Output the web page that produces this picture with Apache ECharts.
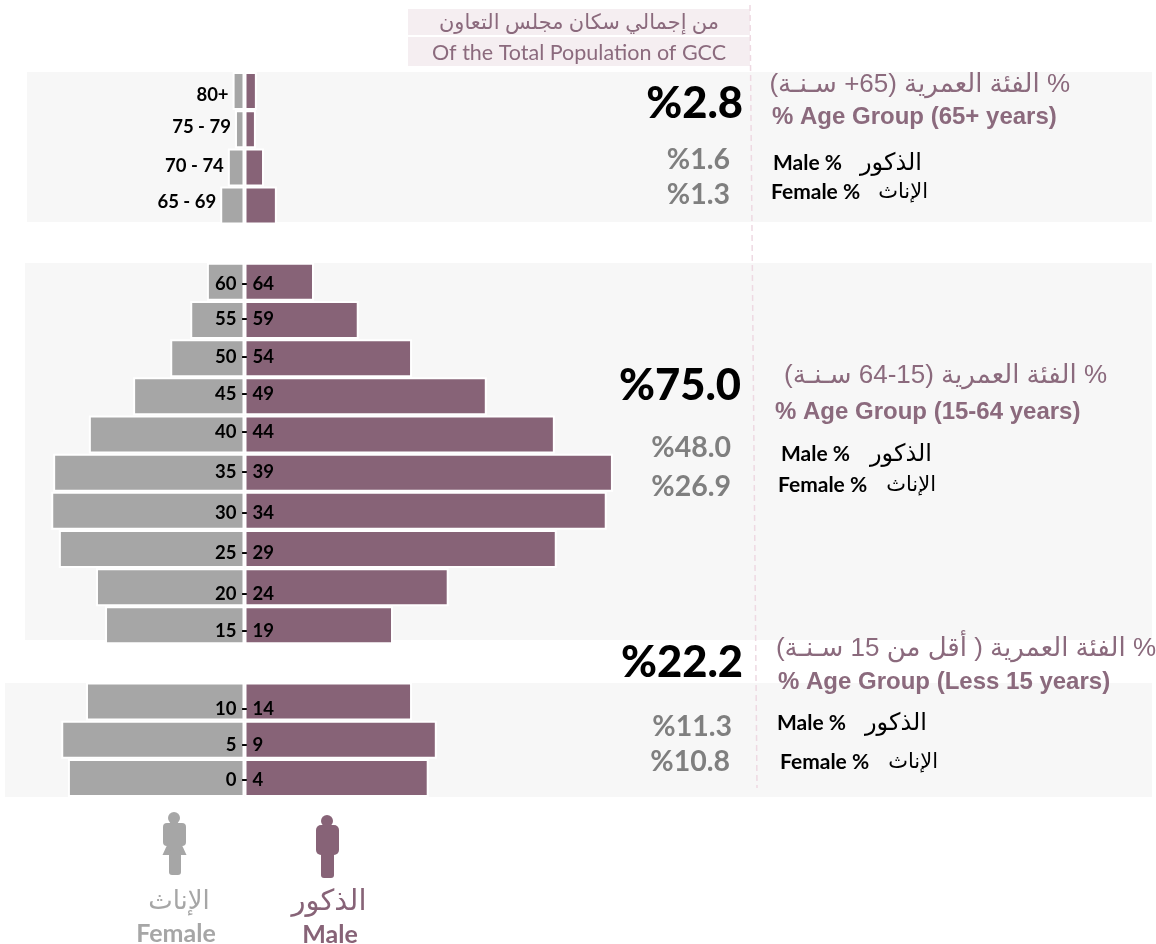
<!DOCTYPE html>
<html>
<head>
<meta charset="utf-8">
<style>
  html, body { margin: 0; padding: 0; background: #fff; }
  #chart { width: 1156px; height: 944px; }
</style>
<script src="https://cdn.jsdelivr.net/npm/echarts@6/dist/echarts.min.js"></script>
</head>
<body>
<div id="chart"></div>
<script>
// 年龄组，空字符串是分组之间的空行
const categories = ["80+", "75 - 79", "70 - 74", "65 - 69", "",
  "60 - 64", "55 - 59", "50 - 54", "45 - 49", "40 - 44", "35 - 39", "30 - 34", "25 - 29", "20 - 24", "15 - 19", "",
  "10 - 14", "5 - 9", "0 - 4"];
const maleValues = [0.26, 0.24, 0.41, 0.68, null,
  1.46, 2.40, 3.52, 5.09, 6.52, 7.74, 7.61, 6.56, 4.29, 3.12, null,
  3.52, 4.04, 3.87];
const femaleValues = [0.25, 0.20, 0.35, 0.51, null,
  0.79, 1.14, 1.56, 2.34, 3.27, 4.02, 4.06, 3.90, 3.12, 2.93, null,
  3.33, 3.85, 3.71];
// 前四个年龄组的标签放在柱子左边
const outerLabelCount = 4;
const labelNudge = [4, -2, -1, -4, 0, 2, -1, -1, -2, -2, -1, 2, 4, 7, 6, 0, 7, 5, 2];

const GREY = "#a6a6a6";
const PLUM = "#876377";
const TITLE = "#8b6a7d";
const FONT = "Lato, 'DejaVu Sans', sans-serif";
const ARIAL = "'Liberation Sans', 'DejaVu Sans', sans-serif";
const RLE = "\u202B";
const PDF = "\u202C";

function text(str, x, y, font, fill, align) {
  return {
    type: "text",
    z: 5,
    x: x,
    y: y,
    style: { text: str, font: font, fill: fill, align: align || "left", verticalAlign: "middle" },
  };
}

function panel(x, y, width, height, fill) {
  return { type: "rect", z: -1, shape: { x: x, y: y, width: width, height: height }, style: { fill: fill } };
}

function blob(x, y, width, height, r, fill) {
  return { type: "rect", z: 5, shape: { x: x, y: y, width: width, height: height, r: r }, style: { fill: fill } };
}

// 右侧每组的文字
function groupBlock(g) {
  return [
    text(g.total, g.totalX, g.totalY + 2, "900 43.5px " + FONT, "#000", "right"),
    text(g.male, g.maleX, g.maleY + 1, "bold 28.5px " + FONT, "#7f7f7f", "right"),
    text(g.female, g.femaleX, g.femaleY + 1, "bold 28.5px " + FONT, "#7f7f7f", "right"),
    text(RLE + g.titleAr + PDF, g.titleArX, g.titleArY + 1, "26px " + ARIAL, TITLE, "right"),
    text(g.titleEn, g.titleEnX, g.titleEnY + 1, "bold 24px " + ARIAL, TITLE),
    text("Male %", g.mLabelX, g.mLabelY + 1, "bold 21px " + FONT, "#000"),
    text("الذكور", g.mArX, g.mLabelY, "24px " + FONT, "#000", "right"),
    text("Female %", g.fLabelX, g.fLabelY + 1, "bold 21px " + FONT, "#000"),
    text("الإناث", g.fArX, g.fLabelY, "21px " + FONT, "#000", "right"),
  ];
}

const groups = [
  { total: "%2.8", totalX: 743, totalY: 102, male: "%1.6", maleX: 730, maleY: 159, female: "%1.3", femaleX: 730, femaleY: 194,
    titleAr: "% الفئة العمرية (65+ سـنـة)", titleArX: 1070, titleArY: 84,
    titleEn: "% Age Group (65+ years)", titleEnX: 772, titleEnY: 116,
    mLabelX: 773, mLabelY: 162, mArX: 922, fLabelX: 771, fLabelY: 191, fArX: 928 },
  { total: "%75.0", totalX: 741, totalY: 384, male: "%48.0", maleX: 731, maleY: 447, female: "%26.9", femaleX: 731, femaleY: 486,
    titleAr: "% الفئة العمرية (15-64 سـنـة)", titleArX: 1107, titleArY: 375,
    titleEn: "% Age Group (15-64 years)", titleEnX: 775, titleEnY: 411,
    mLabelX: 781, mLabelY: 453, mArX: 932, fLabelX: 778, fLabelY: 484, fArX: 936 },
  { total: "%22.2", totalX: 743, totalY: 661, male: "%11.3", maleX: 732, maleY: 726, female: "%10.8", femaleX: 730, femaleY: 761,
    titleAr: "% الفئة العمرية ( أقل من 15 سـنـة)", titleArX: 1156, titleArY: 648,
    titleEn: "% Age Group (Less 15 years)", titleEnX: 778, titleEnY: 681,
    mLabelX: 777, mLabelY: 722, mArX: 927, fLabelX: 780, fLabelY: 761, fArX: 938 },
];

const myChart = echarts.init(document.getElementById("chart"), null, { renderer: "canvas" });

const option = {
  backgroundColor: "#fff",
  animation: false,
  // 左右两边共用一个数值轴，女性取负值
  grid: { left: 6.5, top: 72, width: 618.8, height: 725 },
  xAxis: { type: "value", min: -5, max: 8, show: false },
  yAxis: { type: "category", inverse: true, data: categories, show: false },
  series: [
    {
      name: "Female",
      type: "bar",
      stack: "pyramid",
      barWidth: 38,
      itemStyle: { color: GREY, borderColor: "#fff", borderWidth: 2 },
      data: femaleValues.map(function (v) { return v == null ? null : -v; }),
    },
    {
      name: "Male",
      type: "bar",
      stack: "pyramid",
      barWidth: 38,
      itemStyle: { color: PLUM, borderColor: "#fff", borderWidth: 2 },
      data: maleValues,
    },
    {
      // 只用来放年龄标签
      type: "scatter",
      symbolSize: 0,
      silent: true,
      z: 4,
      itemStyle: { opacity: 1 },
      data: categories.map(function (c, i) {
        if (!c) return null;
        const outer = i < outerLabelCount;
        return {
          value: [outer ? -femaleValues[i] : 0, i],
          label: {
            show: true,
            position: outer ? "left" : "inside",
            distance: 4,
            offset: [0, labelNudge[i]],
            formatter: c,
            color: "#000",
            fontFamily: "Lato",
            fontWeight: "bold",
            fontSize: 18.5,
          },
        };
      }),
    },
  ],
  graphic: {
    elements: [
      panel(27, 72, 1125, 150, "#f7f7f7"),
      panel(25, 263, 1127, 377, "#f7f7f7"),
      panel(5, 683, 1147, 114, "#f7f7f7"),
      panel(408, 9, 342, 26, "#f5eef1"),
      panel(408, 37, 342, 29, "#f5eef1"),
      {
        type: "line",
        z: 0,
        shape: { x1: 750, y1: 5, x2: 757, y2: 788 },
        style: { stroke: "#eed9e2", lineWidth: 1.5, lineDash: [6, 4] },
      },
      text(RLE + "من إجمالي سكان مجلس التعاون" + PDF, 579, 22, "21px " + FONT, TITLE, "center"),
      text("Of the Total Population of GCC", 579, 53, "21.5px " + FONT, TITLE, "center"),
    ].concat(
      groupBlock(groups[0]),
      groupBlock(groups[1]),
      groupBlock(groups[2]),
      [
        // 图标：女
        { type: "circle", z: 5, shape: { cx: 174, cy: 818, r: 6 }, style: { fill: GREY } },
        blob(163, 823, 23, 23, 4, GREY),
        { type: "polygon", z: 5, shape: { points: [[168, 843], [181, 843], [186.5, 855], [162.5, 855]] }, style: { fill: GREY } },
        blob(169, 850, 12, 25, 3, GREY),
        // 图标：男
        { type: "circle", z: 5, shape: { cx: 327, cy: 821, r: 6 }, style: { fill: PLUM } },
        blob(316, 825, 23, 30, 5, PLUM),
        blob(321, 850, 13, 28, 3, PLUM),
        text("الإناث", 179, 901, "26px " + FONT, GREY, "center"),
        text("Female", 176, 934, "bold 25px " + FONT, GREY, "center"),
        text("الذكور", 329, 901, "29px " + FONT, PLUM, "center"),
        text("Male", 330, 935, "bold 25px " + FONT, PLUM, "center"),
      ]
    ),
  },
};

myChart.setOption(option);
window.addEventListener("resize", function () {
  myChart.resize();
});
</script>
</body>
</html>
